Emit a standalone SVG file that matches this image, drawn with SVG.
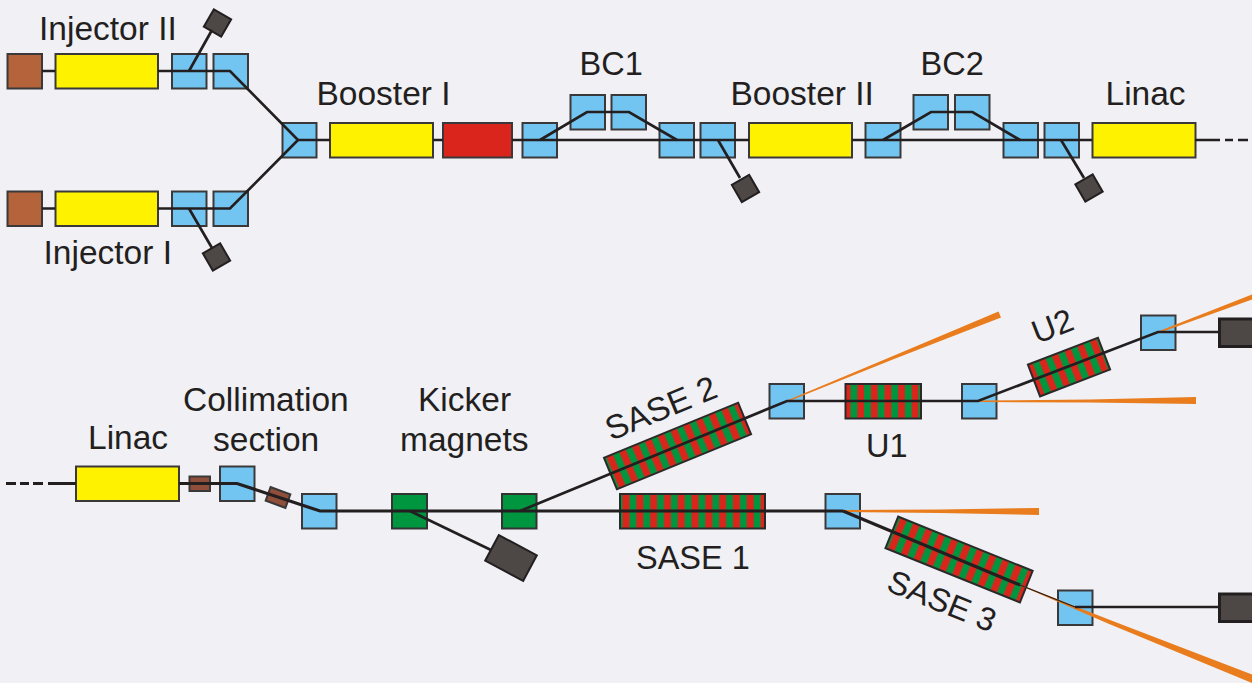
<svg xmlns="http://www.w3.org/2000/svg" width="1252" height="683" viewBox="0 0 1252 683">
<style>
text{font-family:"Liberation Sans",Arial,sans-serif;font-size:33.5px;fill:#231f20}
text.caps{font-size:32.5px}
rect{stroke:#3a3838;stroke-width:2}
.blue{fill:#73c5f1}.yellow{fill:#fff200}.red{fill:#da251c}.brown{fill:#b5633a}.dark{fill:#4d4845;stroke:#231f20}.green{fill:#009640;stroke:#333}.sb{fill:#8f4f3b}
.und{fill:url(#stripes);stroke:#2a2a2a}
.und2{fill:url(#stripes2);stroke:#2a2a2a}
.beam{fill:none;stroke:#231f20;stroke-width:2.7;stroke-linejoin:miter}
.thick{stroke-width:3.2}
.ray{fill:#e97c1c;stroke:none}
</style>
<defs>
<pattern id="stripes" patternUnits="userSpaceOnUse" width="13.8" height="40" x="0" y="0">
<rect x="0" y="0" width="13.8" height="40" style="fill:#009640;stroke:none"/>
<rect x="2.500" y="0" width="7" height="40" style="fill:#da251c;stroke:none"/>
</pattern>
<pattern id="stripes2" patternUnits="userSpaceOnUse" width="13.6" height="40" x="0" y="0">
<rect x="0" y="0" width="13.6" height="40" style="fill:#da251c;stroke:none"/>
<rect x="5" y="0" width="6.800" height="40" style="fill:#009640;stroke:none"/>
</pattern>
</defs>
<rect x="0" y="0" width="1252" height="683" style="fill:#f0f0f5;stroke:none"/>

<g id="gun2"><rect class="brown" x="7.500" y="54" width="34.500" height="34.500"/></g>
<g id="injector2"><rect class="yellow" x="55.500" y="54" width="102.500" height="34.500"/><text x="39" y="39.500">Injector II</text></g>
<g id="inj2-b1"><rect class="blue" x="172" y="54" width="34.500" height="34.500"/></g>
<g id="inj2-b2"><rect class="blue" x="213.500" y="54" width="34.500" height="34.500"/></g>
<g id="inj2-dump"><rect class="dark" x="-10" y="-10" width="20" height="20" transform="translate(217.500 23) rotate(30)"/></g>

<g id="gun1"><rect class="brown" x="7.500" y="191.500" width="34.500" height="34.500"/></g>
<g id="injector1"><rect class="yellow" x="55.500" y="191.500" width="102.500" height="34.500"/><text x="43.500" y="264">Injector I</text></g>
<g id="inj1-b1"><rect class="blue" x="172" y="191.500" width="34.500" height="34.500"/></g>
<g id="inj1-b2"><rect class="blue" x="213.500" y="191.500" width="34.500" height="34.500"/></g>
<g id="inj1-dump"><rect class="dark" x="-10" y="-10" width="20" height="20" transform="translate(216.500 257) rotate(-30)"/></g>

<g id="merge"><rect class="blue" x="282.500" y="123" width="34" height="34.500"/></g>
<g id="booster1"><rect class="yellow" x="330" y="123" width="103" height="34.500"/><text x="316.500" y="105">Booster I</text></g>
<g id="rf"><rect class="red" x="443" y="123" width="69" height="34.500"/></g>
<g id="bc1-a"><rect class="blue" x="522.500" y="123" width="34.500" height="34.500"/></g>
<g id="bc1-b"><rect class="blue" x="570.500" y="95" width="34.500" height="34.500"/></g>
<g id="bc1-c"><rect class="blue" x="611.500" y="95" width="34.500" height="34.500"/><text class="caps" x="579.500" y="75">BC1</text></g>
<g id="bc1-d"><rect class="blue" x="659.500" y="123" width="34.500" height="34.500"/></g>
<g id="b1-e"><rect class="blue" x="700.500" y="123" width="34.500" height="34.500"/></g>
<g id="b1-dump"><rect class="dark" x="-10" y="-10" width="20" height="20" transform="translate(745.500 188.500) rotate(-30)"/></g>
<g id="booster2"><rect class="yellow" x="749" y="123" width="103" height="34.500"/><text x="730.500" y="105">Booster II</text></g>
<g id="bc2-a"><rect class="blue" x="865.500" y="123" width="35" height="34.500"/></g>
<g id="bc2-b"><rect class="blue" x="913.500" y="95" width="34.500" height="34.500"/></g>
<g id="bc2-c"><rect class="blue" x="955" y="95" width="34.500" height="34.500"/><text class="caps" x="920.500" y="75">BC2</text></g>
<g id="bc2-d"><rect class="blue" x="1003.500" y="123" width="34.500" height="34.500"/></g>
<g id="b2-e"><rect class="blue" x="1044.500" y="123" width="34.500" height="34.500"/></g>
<g id="b2-dump"><rect class="dark" x="-10" y="-10" width="20" height="20" transform="translate(1089 188) rotate(-30)"/></g>
<g id="linac-top"><rect class="yellow" x="1092.500" y="123" width="103" height="34.500"/><text x="1105.500" y="105">Linac</text></g>

<g id="linac-bottom"><rect class="yellow" x="76" y="466.500" width="103" height="34.500"/><text x="88" y="449">Linac</text></g>
<g id="coll-1"><rect class="sb" x="189.500" y="476.500" width="20.500" height="14.500"/></g>
<g id="coll-b1"><rect class="blue" x="220" y="466.500" width="34.500" height="34.500"/></g>
<g id="coll-2"><rect class="sb" x="-10.500" y="-7.200" width="21" height="14.400" transform="translate(278 497.500) rotate(20)"/></g>
<g id="coll-b2"><rect class="blue" x="302" y="494" width="34.500" height="34.500"/></g>
<g id="coll-label"><text x="183" y="411">Collimation</text><text x="213" y="451">section</text></g>
<g id="kicker1"><rect class="green" x="392" y="494" width="35" height="34.500"/></g>
<g id="kicker2"><rect class="green" x="502" y="494" width="34.500" height="34.500"/></g>
<g id="kicker-label"><text x="418" y="411">Kicker</text><text x="400" y="451">magnets</text></g>
<g id="kicker-dump"><rect class="dark" x="-21.500" y="-14.500" width="43" height="29" transform="translate(511 558) rotate(28)"/></g>

<g id="sase2"><rect class="und" x="0" y="0" width="145" height="34" transform="translate(604 457.800) rotate(-22.300)"/><text transform="translate(611 441) rotate(-22.300)">SASE 2</text></g>
<g id="sase2-b"><rect class="blue" x="769.500" y="384" width="34.500" height="34.500"/></g>
<g id="u1"><rect class="und2" x="0" y="0" width="75.500" height="34.500" transform="translate(845.500 384)"/><text class="caps" x="866" y="457">U1</text></g>
<g id="u1-b"><rect class="blue" x="962" y="384" width="34.500" height="34.500"/></g>
<g id="u2"><rect class="und2" x="0" y="0" width="75" height="34" transform="translate(1027.900 364.600) rotate(-21)"/><text class="caps" transform="translate(1037 344) rotate(-21)">U2</text></g>
<g id="u2-b"><rect class="blue" x="1141" y="315.500" width="34.500" height="34.500"/></g>
<g id="u2-dump"><rect class="dark" x="1219.500" y="319" width="40" height="27.500" style="stroke-width:3"/></g>

<g id="sase1"><rect class="und" x="0" y="0" width="145" height="34.500" transform="translate(620 494)"/><text class="caps" x="636" y="569">SASE 1</text></g>
<g id="sase1-b"><rect class="blue" x="825.500" y="494" width="34.500" height="34.500"/></g>
<g id="sase3"><rect class="und" x="0" y="0" width="145" height="34" transform="translate(898.200 516.600) rotate(22)"/><text class="caps" transform="translate(885 590) rotate(22)">SASE 3</text></g>
<g id="sase3-b"><rect class="blue" x="1058" y="590.500" width="34.500" height="34.500"/></g>
<g id="sase3-dump"><rect class="dark" x="1219.500" y="594" width="40" height="27.500" style="stroke-width:3"/></g>

<g id="connectors">
<path class="ray" d="M787 400.500 L893 356 L998.500 311.500 L1001 317.500 L894 359 L788 401.500 Z"/>
<path class="ray" d="M978 400.500 L1090 399.500 L1196 397 L1196 404 L1090 402.500 L978 402 Z"/>
<path class="ray" d="M1158 331.500 L1252 294.500 L1252 299.500 L1159 333 Z"/>
<path class="ray" d="M843 510 L940 509.500 L1039 508 L1039 515 L940 513 L843 512 Z"/>
<path class="ray" d="M1020 584.500 L1110 620 L1252 674.500 L1252 683 L1108 623.500 L1020 585.500 Z"/>

<path class="beam" d="M42 71H55M158 71H230L298 140L230 208.500H158M42 208.500H55"/>
<path class="beam" d="M189 71L212 30M189 208.500L212 248"/>
<path class="beam" d="M298 140H330M433 140H443M512 140H749M852 140H1092M1195 140H1220M1225 140H1233M1238 140H1248"/>
<path class="beam" d="M540 140L587 112H629L677 140M883 140L931 112H972.500L1020 140"/>
<path class="beam" d="M718 140L740 178M1061 140L1084 178"/>

<path class="beam thick" d="M6 483.500H16M20 483.500H29M33 483.500H43" />
<path class="beam thick" d="M48 483.500H76M179 483.500H237L320 511H843"/>
<path class="beam" d="M410 511L491 550"/>
<path class="beam" d="M520 511L787 401H978L1158 332H1219"/>
<path class="beam thick" d="M843 511L1020 585"/>
<path class="beam" style="stroke-width:1.200" d="M1020 585L1075 607"/>
<path class="beam" d="M1075 607H1219"/>
</g>
</svg>
